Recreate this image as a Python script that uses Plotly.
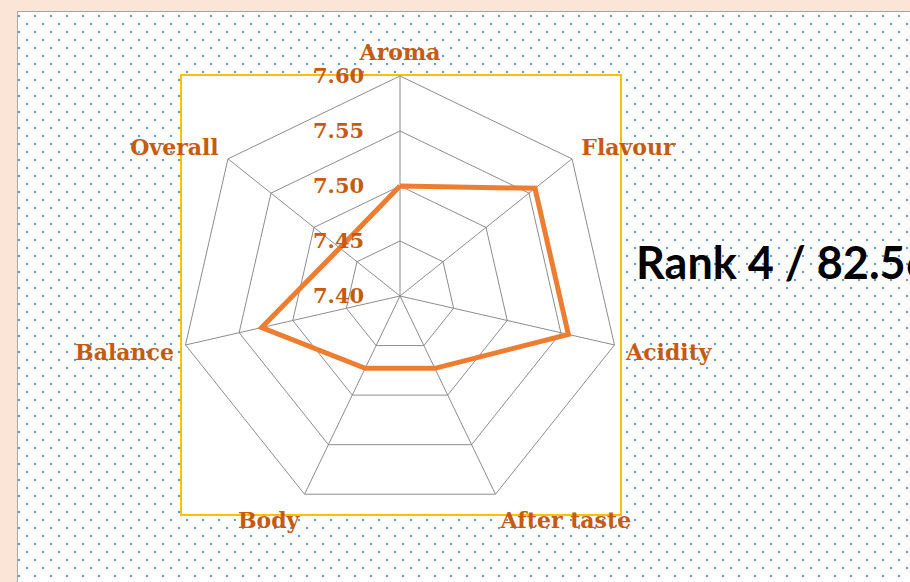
import base64
import plotly.graph_objects as go

categories = ["Aroma", "Flavour", "Acidity", "After taste", "Body", "Balance", "Overall"]
scores = [7.50, 7.557, 7.557, 7.473, 7.473, 7.529, 7.470]
radial_ticks = [7.40, 7.45, 7.50, 7.55, 7.60]
radial_ticktext = ["7.40", "7.45", "7.50", "7.55", "7.60"]
title_text = "Rank 4 / 82.56"

W, H = 910, 582
ORANGE_TXT = "#C55A11"
LINE_ORANGE = "#ED7D31"
GRID = "#8C8C8C"


def px(x):
    return x / W


def py(y):
    return 1 - y / H


# dotted background (decoration) as an inline SVG image
iw, ih = W - 17, H - 11
svg = (
    f'<svg xmlns="http://www.w3.org/2000/svg" width="{iw}" height="{ih}">'
    '<defs><pattern id="p" width="16" height="16" patternUnits="userSpaceOnUse">'
    '<rect x="1" y="4" width="2" height="2" fill="#5B9BD5"/>'
    '<rect x="9" y="12" width="2" height="2" fill="#5B9BD5"/>'
    '</pattern></defs>'
    f'<rect width="{iw}" height="{ih}" fill="#A6A6A6"/>'
    f'<rect x="1" y="1" width="{iw}" height="{ih}" fill="#FFFFFF"/>'
    f'<rect x="1" y="1" width="{iw}" height="{ih}" fill="url(#p)"/>'
    '</svg>'
)
src = "data:image/svg+xml;base64," + base64.b64encode(svg.encode()).decode()

r_closed = scores + scores[:1]
theta_closed = categories + categories[:1]

fig = go.Figure()
fig.add_trace(go.Scatterpolar(
    r=r_closed, theta=theta_closed, mode="lines",
    line=dict(color=LINE_ORANGE, width=5),
    hoverinfo="skip", showlegend=False,
))

label_font = dict(family="DejaVu Serif", size=22, color=ORANGE_TXT, weight="bold")
radial_font = dict(family="DejaVu Serif", size=21, color=ORANGE_TXT, weight="bold")

fig.update_layout(
    width=W, height=H,
    margin=dict(l=0, r=0, t=0, b=0),
    paper_bgcolor="#FBE5D6",
    showlegend=False,
    polar=dict(
        domain=dict(x=[px(180), px(620)], y=[py(516), py(76)]),
        bgcolor="rgba(0,0,0,0)",
        gridshape="linear",
        angularaxis=dict(
            direction="clockwise", rotation=90,
            showline=True, linecolor=GRID, linewidth=1,
            gridcolor=GRID, gridwidth=1,
            ticks="outside", ticklen=7, tickcolor="rgba(0,0,0,0)",
            tickfont=label_font,
            categoryorder="array", categoryarray=categories,
        ),
        radialaxis=dict(
            range=[7.40, 7.60], tickvals=radial_ticks, ticktext=radial_ticktext,
            angle=90, side="counterclockwise", tickangle=90,
            showline=False, gridcolor=GRID, gridwidth=1,
            ticks="outside", ticklen=28, tickcolor="rgba(0,0,0,0)",
            tickfont=radial_font,
        ),
    ),
    images=[dict(
        source=src, xref="paper", yref="paper",
        x=px(17), y=py(11), sizex=iw / W, sizey=ih / H,
        xanchor="left", yanchor="top", sizing="stretch", layer="below",
    )],
    shapes=[dict(
        type="rect", xref="paper", yref="paper",
        x0=px(181), x1=px(621), y0=py(515), y1=py(75),
        line=dict(color="#FFC000", width=2), fillcolor="#FFFFFF", layer="below",
    )],
    annotations=[dict(
        text=title_text, xref="paper", yref="paper",
        x=px(634), y=py(262), xanchor="left", yanchor="middle",
        showarrow=False,
        font=dict(family="Lato", size=45, color="#000000", weight="bold"),
    )],
)

fig.write_html(
    "out.html",
    config={"displayModeBar": False},
    post_script="document.body.style.margin='0';document.body.style.overflow='hidden';",
)
